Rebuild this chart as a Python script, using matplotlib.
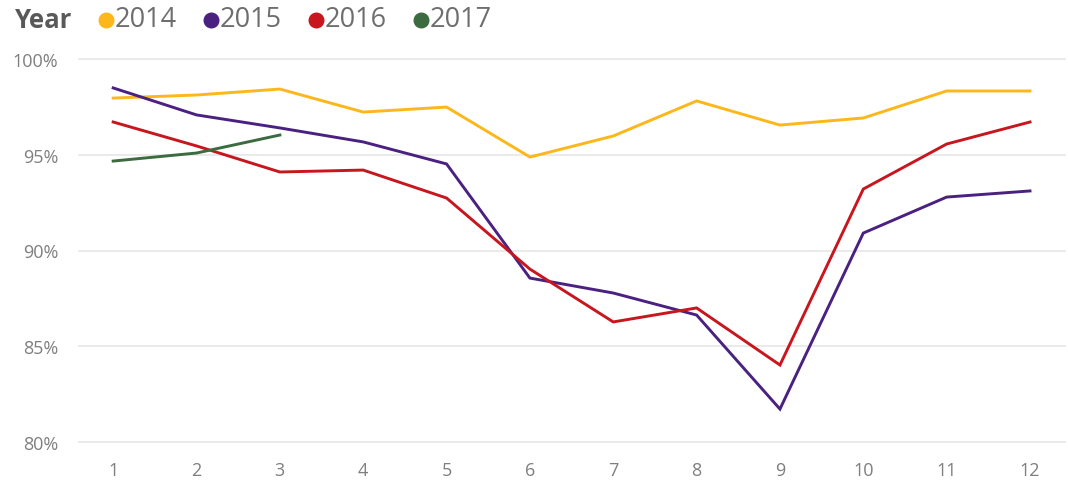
import matplotlib
matplotlib.use("Agg")
import matplotlib.pyplot as plt
from matplotlib.lines import Line2D

months = [1, 2, 3, 4, 5, 6, 7, 8, 9, 10, 11, 12]
y2014 = [97.96, 98.12, 98.43, 97.23, 97.49, 94.88, 95.98, 97.81, 96.55, 96.92, 98.33, 98.33]
y2015 = [98.49, 97.08, 96.40, 95.67, 94.52, 88.56, 87.78, 86.63, 81.72, 90.91, 92.79, 93.11]
y2016 = [96.71, 95.46, 94.10, 94.20, 92.74, 89.03, 86.27, 87.00, 84.02, 93.21, 95.56, 96.71]
months2017 = [1, 2, 3]
y2017 = [94.67, 95.09, 96.03]
years = ["2014", "2015", "2016", "2017"]
colors = ["#FDB71A", "#4A2180", "#C8161E", "#3B6B3E"]
yticks = [80, 85, 90, 95, 100]

plt.rcParams['font.family'] = ['Open Sans', 'DejaVu Sans']

fig = plt.figure(figsize=(10.68, 4.85), dpi=100)
ax = fig.add_axes([79/1068, 1-443/485, (1065-79)/1068, (443-60)/485])

series = [(months, y2014), (months, y2015), (months, y2016), (months2017, y2017)]
for (xs, ys), c in zip(series, colors):
    ax.plot(xs, ys, color=c, lw=2.1, solid_joinstyle='miter')

ax.set_xlim(0.59, 12.42)
ax.set_ylim(80, 100)
ax.set_yticks(yticks)
ax.set_yticklabels([f"{t}%" for t in yticks])
ax.set_xticks(months)
ax.grid(axis='y', color='#E6E6E6', lw=1.2)
for gl in ax.get_ygridlines():
    gl.set_clip_on(False)
ax.set_axisbelow(True)
for s in ax.spines.values():
    s.set_visible(False)
ax.tick_params(length=0, labelsize=13, colors='#7F7F7F')
ax.tick_params(axis='y', pad=15)
ax.tick_params(axis='x', pad=14)

# legend
ty = 1 - 20/485
fig.text(15/1068, ty, "Year", fontsize=18.5, fontweight='bold', color='#595959', va='center', ha='left')
dot_x = [106, 211, 316, 421]
for yr, c, dx in zip(years, colors, dot_x):
    fig.add_artist(Line2D([dx/1068], [1 - 21/485], marker='o', markersize=10.5, color=c,
                          transform=fig.transFigure, linestyle='none'))
    fig.text((dx+9)/1068, ty, yr, fontsize=19.5, color='#6E6E6E', va='center', ha='left')

fig.savefig("out.png", dpi=100)
